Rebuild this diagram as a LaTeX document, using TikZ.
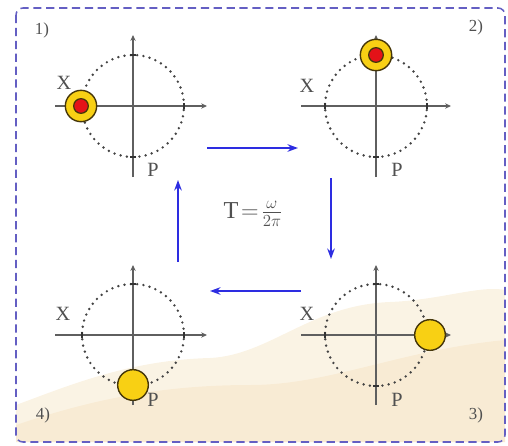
\documentclass[tikz,border=0pt]{standalone}
\usepackage{fontspec}
\setmainfont{Liberation Serif}
\usetikzlibrary{arrows.meta, positioning}
\definecolor{framepurple}{RGB}{100, 95, 195}
\definecolor{flowblue}{RGB}{45, 45, 225}
\definecolor{axisgray}{RGB}{95, 95, 95}
\definecolor{labelgray}{RGB}{80, 80, 80}
\definecolor{ballyellow}{RGB}{248, 208, 20}
\definecolor{ballred}{RGB}{228, 18, 24}
\definecolor{balledge}{RGB}{70, 55, 10}
\definecolor{sandbeige}{RGB}{245, 228, 196}

\begin{document}
\begin{tikzpicture}[
  x=0.03cm, y=-0.03cm,
  every node/.style={font=\LARGE, text=labelgray, inner sep=0pt},
  axis/.style={draw=axisgray, line width=1.5pt, -{Stealth[length=5pt, width=4.5pt]}},
  orbit/.style={draw=axisgray!70!black, line width=2.3pt, dash pattern=on 0pt off 5.4pt, line cap=round},
  tickmark/.style={draw=black!80, line width=1.5pt},
  ring/.style={circle, draw=balledge, fill=ballyellow, line width=1.2pt, minimum size=0.94cm},
  core/.style={circle, draw=balledge, fill=ballred, line width=1.1pt, minimum size=0.44cm},
  ball/.style={circle, draw=balledge, fill=ballyellow, line width=1.2pt, minimum size=0.92cm},
  flow/.style={draw=flowblue, line width=1.2pt, -{Stealth[length=9pt, width=6.5pt]}},
  stage/.style={font=\Large},
  frame/.style={draw=framepurple, line width=1.3pt, dash pattern=on 7pt off 4pt, rounded corners=6pt}
]
  \useasboundingbox (0,0) rectangle (508,445);

  % Background
  \fill[sandbeige, opacity=0.45] (16,442) -- (16,405) .. controls (70,385) and (130,360) .. (210,358)
    .. controls (270,355) and (310,305) .. (390,302) .. controls (440,300) and (480,285) .. (505,290)
    -- (505,442) -- cycle;
  \fill[sandbeige, opacity=0.5] (16,442) -- (16,425) .. controls (90,400) and (160,385) .. (250,385)
    .. controls (330,385) and (400,350) .. (505,340) -- (505,442) -- cycle;
  \draw[frame] (16,8) rectangle (505,442);

  % Panel centres
  \coordinate (c1) at (133,106);
  \coordinate (c2) at (376,106);
  \coordinate (c3) at (376,335);
  \coordinate (c4) at (133,335);

  % 1)
  \begin{scope}[shift={(c1)}]
    \draw[orbit] (0,0) circle[radius=1.53cm];
    \draw[axis] (-78,0) -- (74,0);
    \draw[axis] (0,71) -- (0,-71);
    \draw[tickmark] (51,-3) -- (51,3) (-3,51) -- (3,51) (-3,-51) -- (3,-51);
    \node (x1) at (-69,-23) {X};
    \node (p1) at (20,64) {P};
    \node[ring] (r1) at (-52,0) {};
    \node[core] (k1) at (r1) {};
  \end{scope}

  % 2)
  \begin{scope}[shift={(c2)}]
    \draw[orbit] (0,0) circle[radius=1.53cm];
    \draw[axis] (-75,0) -- (75,0);
    \draw[axis] (0,71) -- (0,-71);
    \draw[tickmark] (51,-3) -- (51,3) (-51,-3) -- (-51,3) (-3,51) -- (3,51);
    \node (x2) at (-69,-20) {X};
    \node (p2) at (21,64) {P};
    \node[ring] (r2) at (0,-51) {};
    \node[core] (k2) at (r2) {};
  \end{scope}

  % 3)
  \begin{scope}[shift={(c3)}]
    \draw[orbit] (0,0) circle[radius=1.53cm];
    \draw[axis] (-75,0) -- (75,0);
    \draw[axis] (0,70) -- (0,-70);
    \draw[tickmark] (-51,-3) -- (-51,3) (-3,51) -- (3,51) (-3,-51) -- (3,-51);
    \node (x3) at (-69,-21) {X};
    \node (p3) at (21,65) {P};
    \node[ball] (b3) at (54,0) {};
  \end{scope}

  % 4)
  \begin{scope}[shift={(c4)}]
    \draw[orbit] (0,0) circle[radius=1.53cm];
    \draw[axis] (-78,0) -- (74,0);
    \draw[axis] (0,70) -- (0,-70);
    \draw[tickmark] (51,-3) -- (51,3) (-51,-3) -- (-51,3) (-3,-51) -- (3,-51);
    \node (x4) at (-70,-21) {X};
    \node (p4) at (20,65) {P};
    \node[ball] (b4) at (0,50) {};
  \end{scope}

  % Stage numbers
  \node[stage] (s1) at (42,30) {1)};
  \node[stage] (s2) at (476,27) {2)};
  \node[stage] (s3) at (476,415) {3)};
  \node[stage] (s4) at (43,415) {4)};

  % Cycle
  \coordinate (a1s) at (207,148);
  \coordinate (a1e) at (298,148);
  \coordinate (a2s) at (331,178);
  \coordinate (a2e) at (331,259);
  \coordinate (a3s) at (301,291);
  \coordinate (a3e) at (210,291);
  \coordinate (a4s) at (178,262);
  \coordinate (a4e) at (178,180);
  \draw[flow] (a1s) -- (a1e);
  \draw[flow] (a2s) -- (a2e);
  \draw[flow] (a3s) -- (a3e);
  \draw[flow] (a4s) -- (a4e);

  \node[font=\huge] (period) at (253,214) {$\mathrm{T}\!=\!\frac{\omega}{2\pi}$};

\end{tikzpicture}
\end{document}
